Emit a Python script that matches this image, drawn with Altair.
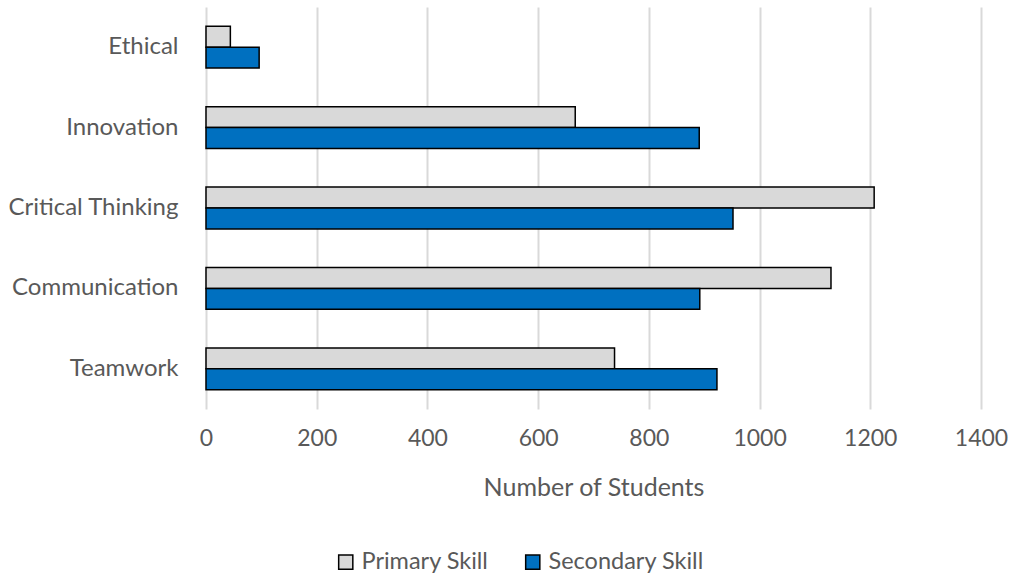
import altair as alt
import pandas as pd

categories = ["Ethical", "Innovation", "Critical Thinking", "Communication", "Teamwork"]
primary = [44, 667, 1207, 1129, 738]
secondary = [96, 891, 952, 892, 923]
series = ["Primary Skill", "Secondary Skill"]
colors = ["#D9D9D9", "#0070C0"]

rows = []
for c, p, s in zip(categories, primary, secondary):
    rows.append({"Skill": c, "Series": series[0], "Students": p})
    rows.append({"Skill": c, "Series": series[1], "Students": s})
df = pd.DataFrame(rows)

FONT = "Lato"
GRAY = "#595959"

chart = alt.Chart(df).mark_bar(stroke="black", strokeWidth=1.5).encode(
    x=alt.X("Students:Q",
            scale=alt.Scale(domain=[0, 1400], nice=False),
            axis=alt.Axis(values=list(range(0, 1401, 200)), format="d",
                          title="Number of Students", labelFlush=False,
                          grid=True, gridColor="#D9D9D9", gridWidth=2,
                          domain=False, ticks=False, labelFontSize=23, labelColor=GRAY,
                          labelFont=FONT, labelPadding=18, titleFont=FONT, titleFontSize=25,
                          titleColor=GRAY, titleFontWeight="normal", titlePadding=25)),
    y=alt.Y("Skill:N", sort=categories,
            scale=alt.Scale(paddingInner=0.48, paddingOuter=0.24),
            axis=alt.Axis(title=None, domain=False, ticks=False, grid=False, labelFontSize=24,
                          labelColor=GRAY, labelFont=FONT, labelPadding=28)),
    yOffset=alt.YOffset("Series:N", sort=series),
    fill=alt.Fill("Series:N", sort=series,
                  scale=alt.Scale(domain=series, range=colors),
                  legend=alt.Legend(title=None, orient="none", direction="horizontal",
                                    legendX=128, legendY=543, symbolType="square",
                                    symbolSize=200, symbolStrokeColor="black",
                                    symbolStrokeWidth=1.5, labelFontSize=23.5,
                                    labelFont=FONT, labelColor=GRAY, columnPadding=32,
                                    labelOffset=4)),
).properties(
    width=775, height=402,
    background="white",
    padding={"left": 206, "top": 7, "right": 28, "bottom": 164},
    autosize=alt.AutoSizeParams(type="none"),
).configure_view(stroke=None, strokeWidth=0)

chart.save("out.html", embed_options={"renderer": "svg", "actions": False})
